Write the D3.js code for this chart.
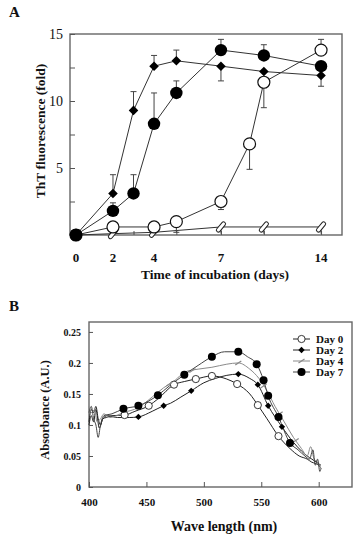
<!DOCTYPE html>
<html>
<head>
<meta charset="utf-8">
<script src="https://cdn.jsdelivr.net/npm/d3@7"></script>
<style>
  body { margin: 0; background: #fff; }
  svg text { font-family: "Liberation Serif", "Times New Roman", serif; fill: #111; }
</style>
</head>
<body>
<div id="chart"></div>
<script>
// ---- panel A data: ThT fluorescence vs. days ----
var aTickDays = [0, 2, 4, 7, 14]
var diamondDays = [0, 2, 3, 4, 5, 7, 10, 14]
var diamondVals = [0, 3.1, 9.3, 12.6, 13.0, 12.6, 12.2, 11.9]
var diamondErr = [0, 1.4, 1.4, 0.8, 0.8, -1.1, 0, -0.8]
var filledDays = [0, 2, 3, 4, 5, 7, 10, 14]
var filledVals = [0, 1.8, 3.1, 8.3, 10.6, 13.8, 13.4, 12.6]
var filledErr = [0, 0.6, 1.4, 2.3, 0.9, 0.8, 0.8, 0]
var openDays = [0, 2, 4, 5, 7, 9, 10, 14]
var openVals = [0, 0.6, 0.6, 1.0, 2.5, 6.8, 11.4, 13.8]
var openErr = [0, 0, 0, -0.8, -0.6, -1.9, -1.9, 0.8]
var hatchDays = [0, 2, 4, 7, 10, 14]
var hatchVals = [0, 0.1, 0.2, 0.6, 0.6, 0.6]
var hatchErr = [0, 0, 0, -0.5, -0.5, -0.5]

// ---- panel B data: absorbance spectra ----
var wl0 = [400,402,404,406,408,410,412,415,420,431,440,452,460,474,483,493,507,520,529,540,547,555,565,575,583,590,594,597,600,602]
var ab0 = [0.105,0.125,0.12,0.13,0.11,0.1,0.11,0.112,0.115,0.116,0.122,0.131,0.142,0.165,0.17,0.174,0.179,0.174,0.166,0.15,0.132,0.11,0.082,0.062,0.05,0.045,0.04,0.038,0.035,0.03]
var mkWl0 = [431, 452, 474, 493, 507, 529, 547, 565]
var mkAb0 = [0.116, 0.131, 0.165, 0.174, 0.179, 0.166, 0.132, 0.082]

var wl2 = [400,402,404,406,409,412,416,425,435,443,455,465,471,480,489,500,510,520,530,540,547,556,568,578,585,590,594,598,602]
var ab2 = [0.1,0.115,0.105,0.125,0.095,0.11,0.115,0.112,0.112,0.113,0.122,0.131,0.135,0.145,0.155,0.168,0.175,0.18,0.182,0.175,0.165,0.131,0.097,0.072,0.058,0.05,0.045,0.04,0.035]
var mkWl2 = [443, 465, 489, 530, 547, 556, 568]
var mkAb2 = [0.113, 0.131, 0.155, 0.182, 0.165, 0.131, 0.097]

var wl4 = [400,402,405,407,410,413,418,430,443,455,465,475,483,495,507,520,530,540,548,555,562,570,578,585,590,593,596,599,602]
var ab4 = [0.13,0.12,0.125,0.105,0.11,0.118,0.112,0.12,0.128,0.145,0.16,0.172,0.185,0.19,0.193,0.198,0.2,0.19,0.175,0.155,0.13,0.105,0.08,0.062,0.05,0.065,0.045,0.04,0.03]
var mkWl4 = [470, 490, 530, 552, 566, 580]
var mkAb4 = [0.166, 0.188, 0.2, 0.163, 0.118, 0.075]

var wl7 = [400,402,404,406,408,410,413,420,430,443,460,470,483,495,507,518,530,538,546,552,556,565,575,582,588,592,595,597,599,601,602]
var ab7 = [0.12,0.13,0.11,0.1,0.08,0.1,0.115,0.118,0.126,0.131,0.148,0.163,0.181,0.196,0.21,0.218,0.218,0.21,0.198,0.172,0.147,0.113,0.071,0.06,0.05,0.045,0.06,0.035,0.045,0.025,0.03]
var mkWl7 = [430, 443, 460, 483, 507, 530, 546, 552, 556, 565, 575]
var mkAb7 = [0.126, 0.131, 0.148, 0.181, 0.21, 0.218, 0.198, 0.172, 0.147, 0.113, 0.071]

var legendLabels = ["Day 0", "Day 2", "Day 4", "Day 7"]

var svg = d3.select("#chart").append("svg")
    .attr("width", 355)
    .attr("height", 536)

// ================= panel A =================
var ax0 = 70, ax1 = 342, ay0 = 34, ay1 = 235
var aw = ax1 - ax0
var xA = d3.scaleLinear()
    .domain(aTickDays)
    .range([0.022, 0.158, 0.309, 0.555, 0.923].map(f => ax0 + f * aw))
var yA = d3.scaleLinear().domain([0, 15]).range([ay1, ay0])

svg.append("text").attr("x", 9).attr("y", 17)
    .style("font-size", "15px").style("font-weight", "bold").text("A")

svg.append("rect").attr("x", ax0).attr("y", ay0)
    .attr("width", aw).attr("height", ay1 - ay0)
    .attr("fill", "none").attr("stroke", "#666").attr("stroke-width", 1.4)

// y axis, ticks pointing inward
var yAxisA = svg.append("g").attr("transform", "translate(" + ax0 + ",0)")
    .call(d3.axisLeft(yA).tickValues([2.5, 5, 7.5, 10, 12.5, 15]).tickSize(-5).tickPadding(7)
        .tickFormat(d => d % 5 === 0 ? d : ""))
yAxisA.select(".domain").remove()
yAxisA.selectAll("line").attr("stroke", "#555")
yAxisA.selectAll("text").style("font-size", "14px").style("font-family", "Liberation Serif")

// x axis
var xAxisA = svg.append("g").attr("transform", "translate(0," + ay1 + ")")
    .call(d3.axisBottom(xA).tickValues([2, 3, 4, 5, 7, 10, 14]).tickSize(-4).tickFormat(""))
xAxisA.select(".domain").remove()
xAxisA.selectAll("line").attr("stroke", "#555")

svg.append("g").selectAll("text").data(aTickDays).enter().append("text")
    .attr("x", d => xA(d)).attr("y", 262)
    .attr("text-anchor", "middle")
    .style("font-size", "13px").style("font-weight", "bold")
    .text(d => d)

svg.append("text").attr("x", 215).attr("y", 279).attr("text-anchor", "middle")
    .style("font-size", "13.5px").style("font-weight", "bold")
    .text("Time of incubation (days)")
svg.append("text").attr("transform", "translate(45,131) rotate(-90)")
    .attr("text-anchor", "middle")
    .style("font-size", "13.5px").style("font-weight", "bold")
    .text("ThT fluorescence (fold)")

function seriesA(days, vals, errs) {
    return days.map((d, i) => ({ day: d, v: vals[i], e: errs[i] }))
}
var serA = [
    { pts: seriesA(hatchDays, hatchVals, hatchErr), kind: "hatch" },
    { pts: seriesA(openDays, openVals, openErr), kind: "open" },
    { pts: seriesA(diamondDays, diamondVals, diamondErr), kind: "diamond" },
    { pts: seriesA(filledDays, filledVals, filledErr), kind: "filled" }
]
var lineA = d3.line().x(d => xA(d.day)).y(d => yA(d.v))

serA.forEach(function (s) {
    var g = svg.append("g")
    // error bars
    g.selectAll("line.err").data(s.pts.filter(p => p.e !== 0)).enter()
        .append("line")
        .attr("x1", p => xA(p.day)).attr("x2", p => xA(p.day))
        .attr("y1", p => yA(p.v)).attr("y2", p => yA(p.v + p.e))
        .attr("stroke", "#444").attr("stroke-width", 1)
    g.selectAll("line.cap").data(s.pts.filter(p => p.e !== 0 && s.kind !== "hatch")).enter()
        .append("line")
        .attr("x1", p => xA(p.day) - 3).attr("x2", p => xA(p.day) + 3)
        .attr("y1", p => yA(p.v + p.e)).attr("y2", p => yA(p.v + p.e))
        .attr("stroke", "#444").attr("stroke-width", 1)
    g.append("path").datum(s.pts).attr("d", lineA)
        .attr("fill", "none").attr("stroke", "#333").attr("stroke-width", 1)
    var m = g.selectAll("g.mk").data(s.pts).enter().append("g")
        .attr("transform", p => "translate(" + xA(p.day) + "," + yA(p.v) + ")")
    if (s.kind === "open") {
        m.append("circle").attr("r", 6).attr("fill", "#fff").attr("stroke", "#111").attr("stroke-width", 1.2)
    } else if (s.kind === "filled") {
        m.append("circle").attr("r", 6.2).attr("fill", "#000")
    } else if (s.kind === "diamond") {
        m.append("path").attr("d", d3.symbol(d3.symbolDiamond2, 58)).attr("fill", "#000")
    } else {
        m.append("rect").attr("x", -6).attr("y", -2).attr("width", 12).attr("height", 4).attr("rx", 2)
            .attr("transform", "rotate(-50)")
            .attr("fill", "#fff").attr("stroke", "#222").attr("stroke-width", 1)
    }
})

// ================= panel B =================
var bx0 = 89, bx1 = 352, by0 = 322, by1 = 487
var xB = d3.scaleLinear().domain([400, 629]).range([bx0, bx1])
var yB = d3.scaleLinear().domain([0, 0.266]).range([by1, by0])

svg.append("text").attr("x", 9).attr("y", 311)
    .style("font-size", "15px").style("font-weight", "bold").text("B")

svg.append("rect").attr("x", bx0).attr("y", by0)
    .attr("width", bx1 - bx0).attr("height", by1 - by0)
    .attr("fill", "none").attr("stroke", "#666").attr("stroke-width", 1.4)

var yAxisB = svg.append("g").attr("transform", "translate(" + bx0 + ",0)")
    .call(d3.axisLeft(yB).tickValues([0, 0.05, 0.1, 0.15, 0.2, 0.25]).tickSize(-4).tickPadding(8)
        .tickFormat(d3.format("~g")))
yAxisB.select(".domain").remove()
yAxisB.selectAll("line").attr("stroke", "#555")
yAxisB.selectAll("text").style("font-size", "10px").style("font-weight", "bold").style("font-family", "Liberation Serif")

var xAxisB = svg.append("g").attr("transform", "translate(0," + by1 + ")")
    .call(d3.axisBottom(xB).tickValues([400, 450, 500, 550, 600]).tickSize(-5).tickPadding(11))
xAxisB.select(".domain").remove()
xAxisB.selectAll("line").attr("stroke", "#555")
xAxisB.selectAll("text").style("font-size", "11px").style("font-weight", "bold").style("font-family", "Liberation Serif")

svg.append("text").attr("x", 224).attr("y", 531).attr("text-anchor", "middle")
    .style("font-size", "14px").style("font-weight", "bold")
    .text("Wave length (nm)")
svg.append("text").attr("transform", "translate(49,410) rotate(-90)")
    .attr("text-anchor", "middle")
    .style("font-size", "12.5px").style("font-weight", "bold")
    .text("Absorbance (A.U.)")

var specs = [
    { wl: wl0, ab: ab0, mw: mkWl0, ma: mkAb0, color: "#222", kind: "open" },
    { wl: wl2, ab: ab2, mw: mkWl2, ma: mkAb2, color: "#222", kind: "diamond" },
    { wl: wl4, ab: ab4, mw: mkWl4, ma: mkAb4, color: "#8a8a8a", kind: "slash" },
    { wl: wl7, ab: ab7, mw: mkWl7, ma: mkAb7, color: "#444", kind: "filled" }
]
var lineB = d3.line().x(d => xB(d[0])).y(d => yB(d[1])).curve(d3.curveMonotoneX)

function drawMarker(sel, kind, big) {
    var k = big ? 1 : 1
    if (kind === "open") {
        sel.append("circle").attr("r", 3.6 * k).attr("fill", "#fff").attr("stroke", "#222").attr("stroke-width", 0.9)
    } else if (kind === "filled") {
        sel.append("circle").attr("r", 4 * k).attr("fill", "#000")
    } else if (kind === "diamond") {
        sel.append("path").attr("d", d3.symbol(d3.symbolDiamond2, 26)).attr("fill", "#000")
    } else {
        sel.append("line").attr("x1", -3).attr("y1", 2).attr("x2", 3).attr("y2", -2)
            .attr("stroke", "#888").attr("stroke-width", 1.2)
    }
}

var clipB = svg.append("g")
specs.forEach(function (s) {
    clipB.append("path").datum(s.wl.map((w, i) => [w, s.ab[i]]))
        .attr("d", lineB).attr("fill", "none")
        .attr("stroke", s.color).attr("stroke-width", 1)
})
specs.forEach(function (s) {
    clipB.selectAll(null).data(s.mw.map((w, i) => [w, s.ma[i]])).enter().append("g")
        .attr("transform", d => "translate(" + xB(d[0]) + "," + yB(d[1]) + ")")
        .call(drawMarker, s.kind)
})

// legend
var leg = svg.append("g").selectAll("g").data(specs).enter().append("g")
    .attr("transform", (d, i) => "translate(293," + (339 + i * 11) + ")")
leg.append("line").attr("x1", 0).attr("x2", 17).attr("y1", 0).attr("y2", 0)
    .attr("stroke", d => d.color).attr("stroke-width", 1)
leg.append("g").attr("transform", "translate(8.5,0)").each(function (d) { drawMarker(d3.select(this), d.kind) })
leg.append("text").attr("x", 23).attr("y", 4)
    .style("font-size", "11px").style("font-weight", "bold")
    .text((d, i) => legendLabels[i])
</script>
</body>
</html>
